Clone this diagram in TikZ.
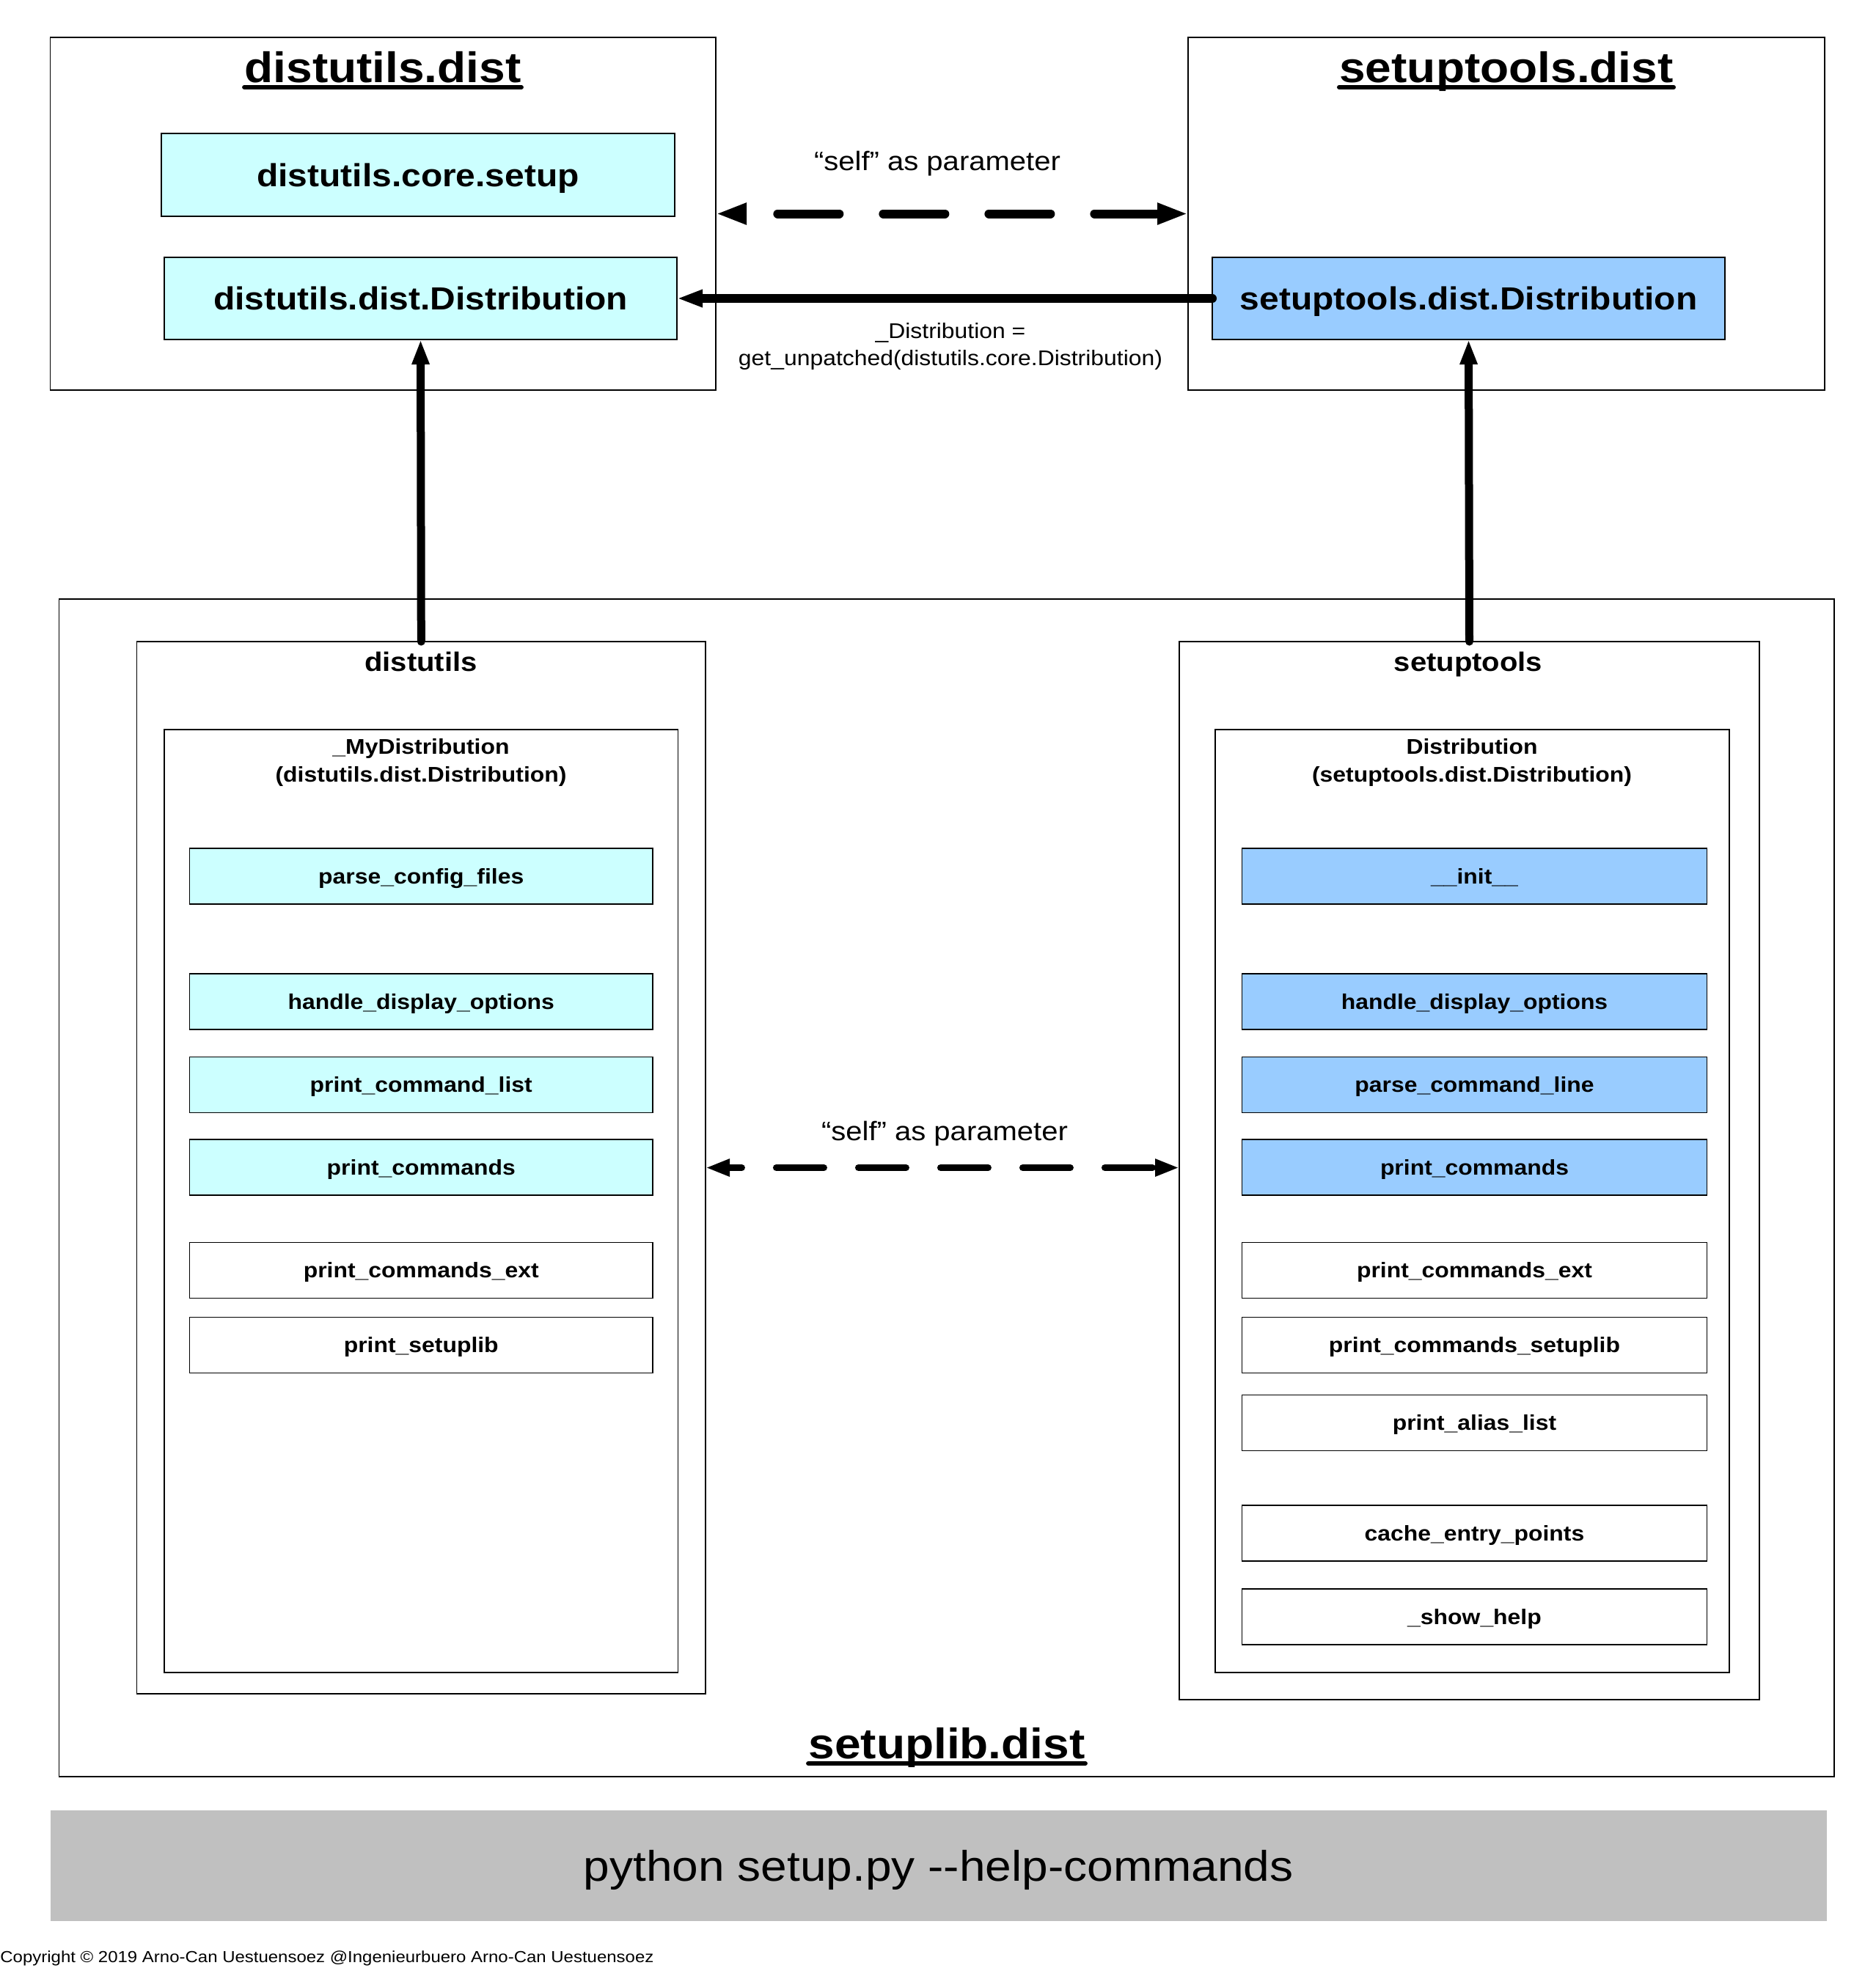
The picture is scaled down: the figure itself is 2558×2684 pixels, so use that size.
\documentclass[tikz,border=0pt]{standalone}
\usepackage{fontspec}
\setmainfont[FakeStretch=1.1]{Liberation Sans}
\usetikzlibrary{fit,arrows.meta}
\definecolor{cyanfill}{HTML}{CCFFFF}
\definecolor{bluefill}{HTML}{99CCFF}
\definecolor{grayfill}{HTML}{C0C0C0}
\newcommand{\fsz}[1]{\fontsize{#1}{#1}\selectfont}
\begin{document}
\begin{tikzpicture}[x=0.5pt,y=-0.5pt,
  frame/.style={draw=black, line width=0.8pt, inner sep=0pt, outer sep=0pt},
  bigbox/.style={frame, font=\bfseries\fsz{21.8pt}, text height=15.7pt, text depth=0pt,
     minimum width=349.5pt, minimum height=56pt},
  methL/.style={frame, font=\bfseries\fsz{14.5pt}, text height=10.4pt, text depth=0pt,
     minimum width=315.75pt, minimum height=38pt},
  methR/.style={methL, minimum width=317pt},
  cyanb/.style={fill=cyanfill},
  blueb/.style={fill=bluefill},
  whiteb/.style={fill=white},
  title/.style={inner sep=0pt, anchor=base, font=\bfseries\fsz{29.1pt}},
  subtitle/.style={inner sep=0pt, anchor=base, font=\bfseries\fsz{18.2pt}},
  cls/.style={inner sep=0pt, anchor=base, font=\bfseries\fsz{14.5pt}},
  lbl/.style={inner sep=0pt, anchor=base, font=\fsz{18.2pt}},
  smalllbl/.style={inner sep=0pt, anchor=base, font=\fsz{14.5pt}},
  uline/.style={line width=3pt, line cap=round},
  solidarrow/.style={line width=6pt, line cap=round, -{Triangle[length=17.5pt,width=11pt]}},
  vertarrow/.style={line width=5.5pt, line cap=round, -{Triangle[length=17pt,width=11pt]}},
  dashtop/.style={line width=6pt, line cap=round, dash pattern=on 42pt off 30pt, dash phase=49.5pt,
     {Triangle[length=21pt,width=13.5pt]}-{Triangle[length=21pt,width=13.5pt]}},
  dashmid/.style={line width=4.5pt, line cap=round, dash pattern=on 32.5pt off 23.5pt, dash phase=23.25pt,
     {Triangle[length=16.5pt,width=11pt]}-{Triangle[length=16.5pt,width=11pt]}}
]
\useasboundingbox (0,0) rectangle (2558,2684);

% ---------- top packages ----------
\node[frame, fit={(68.5,51) (976,532)}] (dd) {};
\node[frame, fit={(1620,51) (2488,532)}] (sd) {};
\node[title] (tdd) at (522,112) {distutils.dist};
\draw[uline] ([yshift=-3.5pt]tdd.base west) -- ([yshift=-3.5pt]tdd.base east);
\node[title] (tsd) at (2054,112) {setuptools.dist};
\draw[uline] ([yshift=-3.5pt]tsd.base west) -- ([yshift=-3.5pt]tsd.base east);

\node[bigbox, cyanb, minimum width=350pt, minimum height=56.5pt] (dcs) at (570,238.5) {distutils.core.setup};
\node[bigbox, cyanb] (ddd) at (573.5,407) {distutils.dist.Distribution};
\node[bigbox, blueb] (sdd) at (2002.5,407) {setuptools.dist.Distribution};

\node[lbl] (self1) at (1278,232) {“self” as parameter};
\node[smalllbl] (gu1) at (1296,461) {\_Distribution =};
\node[smalllbl] (gu2) at (1296,498) {get\_unpatched(distutils.core.Distribution)};

% ---------- setuplib.dist ----------
\node[frame, fit={(80.5,817) (2501,2423)}] (sl) {};
\node[title] (tsl) at (1291,2398) {setuplib.dist};
\draw[uline] ([yshift=-3.5pt]tsl.base west) -- ([yshift=-3.5pt]tsl.base east);

\node[frame, fit={(186.6,875) (962,2310)}] (dbox) {};
\node[frame, fit={(1608,875) (2399,2318)}] (sbox) {};
\node[subtitle] (tdu) at (574,915) {distutils};
\node[subtitle] (tst) at (2002,915) {setuptools};

\node[frame, fit={(224,995) (924.6,2281)}] (mydist) {};
\node[frame, fit={(1657,995) (2358,2281)}] (stdist) {};
\node[cls] (c1a) at (574,1028) {\_MyDistribution};
\node[cls] (c1b) at (574,1066) {(distutils.dist.Distribution)};
\node[cls] (c2a) at (2007,1028) {Distribution};
\node[cls] (c2b) at (2007,1066) {(setuptools.dist.Distribution)};

% left methods
\node[methL, cyanb] (l1) at (574.25,1195) {parse\_config\_files};
\node[methL, cyanb] (l2) at (574.25,1366) {handle\_display\_options};
\node[methL, cyanb] (l3) at (574.25,1479.5) {print\_command\_list};
\node[methL, cyanb] (l4) at (574.25,1592) {print\_commands};
\node[methL, whiteb] (l5) at (574.25,1732.5) {print\_commands\_ext};
\node[methL, whiteb] (l6) at (574.25,1834.5) {print\_setuplib};

% right methods
\node[methR, blueb] (r1) at (2010.5,1195) {\_\_init\_\_};
\node[methR, blueb] (r2) at (2010.5,1366) {handle\_display\_options};
\node[methR, blueb] (r3) at (2010.5,1479.5) {parse\_command\_line};
\node[methR, blueb] (r4) at (2010.5,1592) {print\_commands};
\node[methR, whiteb] (r5) at (2010.5,1732.5) {print\_commands\_ext};
\node[methR, whiteb] (r6) at (2010.5,1834.5) {print\_commands\_setuplib};
\node[methR, whiteb] (r7) at (2010.5,1940.5) {print\_alias\_list};
\node[methR, whiteb] (r8) at (2010.5,2091) {cache\_entry\_points};
\node[methR, whiteb] (r9) at (2010.5,2205) {\_show\_help};

\node[lbl] (self2) at (1288,1555) {“self” as parameter};

% ---------- bottom ----------
\node[fill=grayfill, inner sep=0pt, minimum width=1211.25pt, minimum height=75.5pt,
      font=\fsz{29.1pt}, text height=21pt, text depth=0pt] (bar) at (1279.75,2544.5) {python setup.py -{}-help-commands};
\node[inner sep=0pt, anchor=base west, font=\fsz{10.9pt}] (copy) at (0,2676) {Copyright © 2019 Arno-Can Uestuensoez @Ingenieurbuero Arno-Can Uestuensoez};

% ---------- connectors ----------
\draw[dashtop] (dd.east) -- (sd.west);
\draw[solidarrow] (sdd.west) -- (ddd.east);
\draw[vertarrow] (dbox.north) -- (ddd.south);
\draw[vertarrow] (sbox.north) -- (sdd.south);
\draw[dashmid] (dbox.east) -- (dbox.east -| sbox.west);
\end{tikzpicture}
\end{document}
